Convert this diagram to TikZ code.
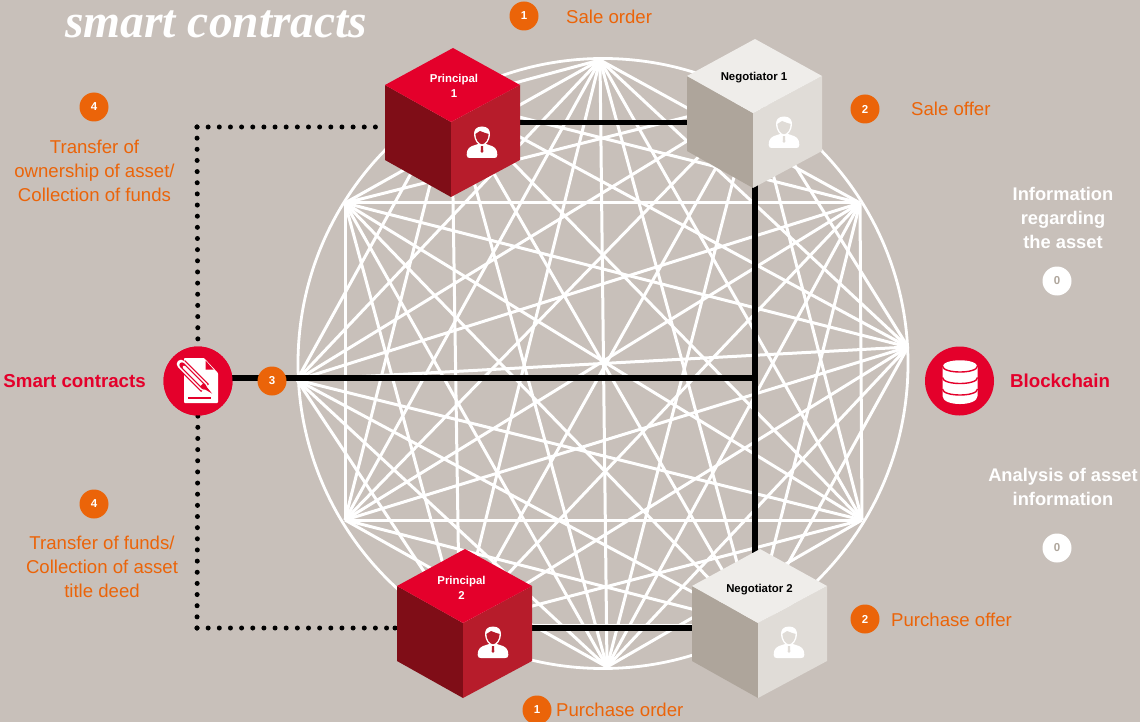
\documentclass[tikz,border=0pt]{standalone}
\usepackage{fontspec}
\setmainfont{Liberation Sans}
\newfontfamily\titlefont{Liberation Serif}
\definecolor{bgc}{HTML}{C8C0BA}
\definecolor{redc}{HTML}{E4002B}
\definecolor{darkred}{HTML}{7F0D17}
\definecolor{midred}{HTML}{B71C2B}
\definecolor{orangec}{HTML}{EB6409}
\definecolor{ntop}{HTML}{EFEDEA}
\definecolor{nright}{HTML}{E0DCD7}
\definecolor{nleft}{HTML}{AEA59B}
\tikzset{
 meshline/.style={white,line width=3pt},
 link/.style={black,line width=5.2pt},
 dotline/.style={black,line width=5pt,line cap=round,dash pattern=on 0pt off 11.15pt},
 badge/.style={circle,fill=orangec,minimum size=29pt,inner sep=0pt,text=white,font=\bfseries\fontsize{11.5}{11.5}\selectfont},
 zbadge/.style={circle,fill=white,minimum size=29pt,inner sep=0pt,text=nleft,font=\bfseries\fontsize{11.5}{11.5}\selectfont},
 otext/.style={text=orangec,font=\fontsize{18.6}{24}\selectfont,align=center,inner sep=0pt},
 wtext/.style={text=white,font=\bfseries\fontsize{18.3}{24}\selectfont,align=center,inner sep=0pt},
 rtext/.style={text=redc,font=\bfseries\fontsize{18.7}{22}\selectfont,inner sep=0pt},
 cubelabel/.style={font=\bfseries\fontsize{11.4}{15}\selectfont,align=center,inner sep=0pt},
 roundel/.style={circle,fill=redc,minimum size=69pt,inner sep=0pt},
}
% person icon: x, y, icon colour, face colour
\newcommand{\personicon}[4]{%
 \begin{scope}[shift={(#1,#2)}]
  \fill[#3] (-15.3,12) .. controls (-15.3,5) and (-12,3.5) .. (-7,2) -- (-2.5,0.5) -- (2.5,0.5) -- (7,2) .. controls (12,3.5) and (15.3,5) .. (15.3,12) .. controls (15.3,14.5) and (14,15) .. (12,15) -- (-12,15) .. controls (-14,15) and (-15.3,14.5) .. (-15.3,12) -- cycle;
  \fill[#4] (-1,3.2) -- (1,3.2) -- (1.3,8.5) -- (0,10) -- (-1.3,8.5) -- cycle;
  \fill[#3] (0,-16.5) .. controls (-6,-16.5) and (-8.2,-13) .. (-8,-8) .. controls (-7.6,-2.5) and (-4,2.5) .. (0,2.5) .. controls (4,2.5) and (7.6,-2.5) .. (8,-8) .. controls (8.2,-13) and (6,-16.5) .. (0,-16.5) -- cycle;
  \fill[#4] (-6.6,-9) .. controls (-4,-10) and (-3,-12) .. (-2,-12) .. controls (1,-10.5) and (4,-10) .. (6.6,-9) .. controls (6.4,-3) and (3,1.2) .. (0,1.2) .. controls (-3,1.2) and (-6.4,-3) .. (-6.6,-9) -- cycle;
 \end{scope}}
% cube: x,y of central vertex; top colour, left colour, right colour
\newcommand{\cubeshape}[5]{%
 \begin{scope}[shift={(#1,#2)}]
  \fill[#4] (-66,-37) -- (0,0) -- (0,75) -- (-66,38) -- cycle;
  \fill[#5] (69,-37) -- (0,0) -- (0,75) -- (69,38) -- cycle;
  \fill[#3] (2,-74) -- (69,-37) -- (0,0) -- (-66,-37) -- cycle;
 \end{scope}}
\begin{document}
\begin{tikzpicture}[x=1pt,y=-1pt]
\useasboundingbox (0,0) rectangle (1140,722);
\fill[bgc] (0,0) rectangle (1140,722);

\node[anchor=base west,inner sep=0pt,text=white,font=\titlefont\bfseries\itshape\fontsize{47.5}{47.5}\selectfont] (title) at (65,38) {smart contracts};

% mesh
\draw[white,line width=2.8pt] (603,363.5) circle[radius=305];
\foreach \n/\x/\y in {a/600/60,b/754/100,c/860/203,d/908/347,e/862/520,f/754/625,g/607/667,h/459.5/625,i/345/520,j/297/380,k/345/203,l/451.5/100}
  \coordinate (m\n) at (\x,\y);
\foreach \s/\rest in {a/{c,d,e,f,g,h,i,j,k,l},b/{d,e,f,g,h,i,j,k},c/{e,f,g,h,i,j,k,l},d/{f,g,h,i,j,k,l},e/{g,h,i,j,k,l},f/{h,i,j,k,l},g/{i,j,k,l},h/{j,k,l},i/{k,l},j/{l}}
  \foreach \t in \rest \draw[meshline] (m\s) -- (m\t);

% ports
\coordinate (p1r) at (515,122.5);
\coordinate (n1l) at (692,122.5);
\coordinate (p2r) at (527,628);
\coordinate (n2l) at (697,628);
\coordinate (n1b) at (755,180);
\coordinate (n2t) at (755,556);
\coordinate (junc) at (755,378);
\coordinate (d1) at (385,127);
\coordinate (d1c) at (197,127);
\coordinate (d2) at (397,628);
\coordinate (d2c) at (197,628);

\node[roundel] (sc) at (198,381) {};
\node[roundel] (bc) at (959.5,381) {};

\draw[link] (p1r) -- (n1l);
\draw[link] (p2r) -- (n2l);
\draw[link] (n1b) -- (n2t);
\draw[link] (sc.center |- junc) -- (junc);
\draw[dotline] (d1c) -- (d1);
\draw[dotline] (d1c) -- (sc.center);
\draw[dotline] (d2c) -- (d2);
\draw[dotline] (d2c) -- (sc.center);
\fill[black] ([xshift=-2pt]d2) circle[radius=2.5pt];

\node[roundel] at (sc) {};

% cubes
\cubeshape{451}{122}{redc}{darkred}{midred}
\personicon{482}{143}{white}{midred}
\node[cubelabel,text=white] (p1) at (454,85.5) {Principal\\1};

\cubeshape{753}{113}{ntop}{nleft}{nright}
\personicon{784}{133}{white}{nright}
\node[cubelabel,text=black] (n1) at (754,77.5) {Negotiator 1};

\cubeshape{463}{623}{redc}{darkred}{midred}
\personicon{493}{643}{white}{midred}
\node[cubelabel,text=white] (p2) at (461.5,587.5) {Principal\\2};

\cubeshape{758}{623}{ntop}{nleft}{nright}
\personicon{789}{643}{white}{nright}
\node[cubelabel,text=black] (n2) at (759.5,589.5) {Negotiator 2};

% smart contract icon
\begin{scope}[shift={(198,381)}]
 \fill[white,rounded corners=0.8pt] (-14,-23) -- (6,-23) -- (20,-8) -- (20,22) -- (-14,22) -- cycle;
 \fill[redc] (7.5,-20.5) -- (15.5,-11.5) -- (7.5,-11.5) -- cycle;
 \draw[redc,line width=1.5pt] (-10,17) -- (13,17);
 \draw[redc,line width=11pt] (-17,-17) -- (7,7);
 \draw[white,line width=8.6pt,line cap=round] (-17,-17) -- (6,6);
 \draw[redc,line width=5.4pt,line cap=round] (-16,-16) -- (6,6);
 \draw[white,line width=3pt,line cap=round] (-14,-14) -- (6,6);
 \fill[redc] (5.5,2) -- (2,5.5) -- (14,12.5) -- cycle;
\end{scope}

% blockchain icon
\begin{scope}[shift={(960,381)}]
 \fill[white] (-17.5,-14) .. controls (-17.5,-23) and (17.5,-23) .. (17.5,-14) -- (17.5,15) .. controls (17.5,25.7) and (-17.5,25.7) .. (-17.5,15) -- cycle;
 \draw[redc,line width=1.4pt] (-17.5,-15) .. controls (-17.5,-7) and (17.5,-7) .. (17.5,-15);
 \draw[redc,line width=1.4pt] (-17.5,-3.5) .. controls (-17.5,4.5) and (17.5,4.5) .. (17.5,-3.5);
 \draw[redc,line width=1.4pt] (-17.5,8) .. controls (-17.5,16) and (17.5,16) .. (17.5,8);
\end{scope}

% badges and labels
\node[badge] (b1a) at (524,16) {1};
\node[otext,anchor=west] (t1a) at (566,16.5) {Sale order};
\node[badge] (b2a) at (865,109) {2};
\node[otext,anchor=west] (t2a) at (911,108.5) {Sale offer};
\node[badge] (b4a) at (94,107) {4};
\node[otext] (t4a) at (94.5,171) {Transfer of\\ownership of asset/\\Collection of funds};
\node[badge] (b3) at (272,381) {3};
\node[badge] (b4b) at (94,504) {4};
\node[otext] (t4b) at (102,566.5) {Transfer of funds/\\Collection of asset\\title deed};
\node[badge] (b2b) at (865,619) {2};
\node[otext,anchor=west] (t2b) at (891,619.5) {Purchase offer};
\node[badge] (b1b) at (537,710) {1};
\node[otext,anchor=west] (t1b) at (556,710) {Purchase order};
\node[wtext] (t0a) at (1063,218) {Information\\regarding\\the asset};
\node[zbadge] (b0a) at (1057,281) {0};
\node[wtext] (t0b) at (1063,486.5) {Analysis of asset\\information};
\node[zbadge] (b0b) at (1057,548) {0};
\node[rtext,anchor=east] (tsc) at (146,381.5) {Smart contracts};
\node[rtext,anchor=west] (tbc) at (1010,381) {Blockchain};
\end{tikzpicture}
\end{document}
